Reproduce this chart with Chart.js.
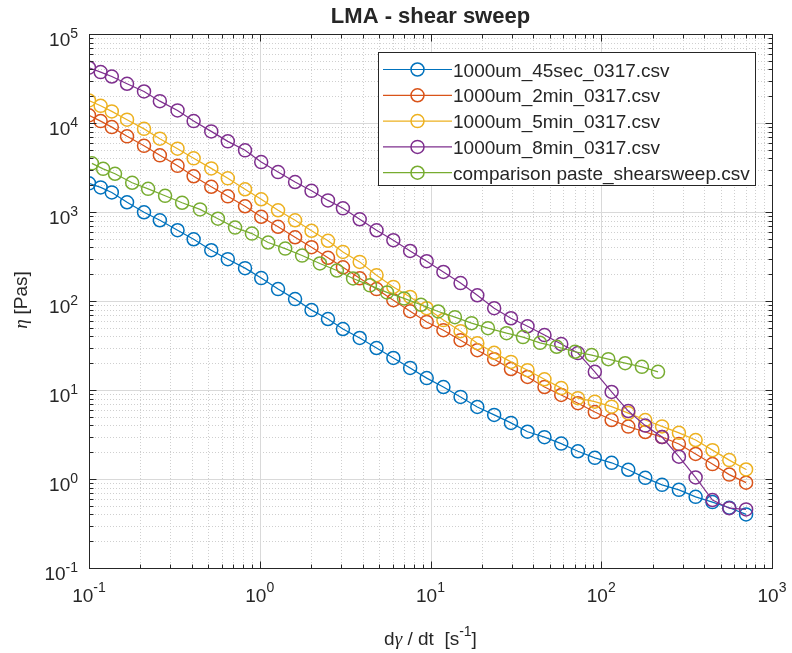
<!DOCTYPE html>
<html>
<head>
<meta charset="utf-8">
<script src="https://cdn.jsdelivr.net/npm/chart.js@4/dist/chart.umd.min.js"></script>
<style>
  html, body { margin: 0; padding: 0; background: #fff; }
</style>
</head>
<body>
<canvas id="chart" width="792" height="653"></canvas>
<script>
// legend text + colours (matlab default order)
var seriesLabels = ['1000um_45sec_0317.csv', '1000um_2min_0317.csv', '1000um_5min_0317.csv', '1000um_8min_0317.csv', 'comparison paste_shearsweep.csv'];
var seriesColors = ['#0072BD', '#D95319', '#EDB120', '#7E2F8E', '#77AC30'];

// shear rate [1/s]
var shearRate = [0.1, 0.117, 0.136, 0.167, 0.21, 0.26, 0.33, 0.41, 0.52, 0.65, 0.82, 1.02, 1.28, 1.61, 2.01, 2.51, 3.07,
  3.85, 4.83, 6.06, 7.6, 9.5, 11.9, 15, 18.8, 23.6, 29.6, 37, 46.5, 58.3, 73, 91.7, 115, 144, 181, 227, 285, 357, 448, 562, 705];
var shearRatePaste = [0.104, 0.121, 0.142, 0.179, 0.222, 0.279, 0.351, 0.447, 0.569, 0.717, 0.9, 1.12, 1.41, 1.77, 2.25, 2.83, 3.52,
  4.42, 5.56, 7.0, 8.8, 11.1, 13.9, 17.4, 21.7, 27.9, 34.8, 43.8, 54.8, 70.2, 87.9, 110, 138, 173, 215];

// viscosity [Pas]
var eta45sec = [2100, 1890, 1660, 1285, 993, 807, 624, 494, 372, 295, 234, 181, 136, 105, 79, 62.7, 48.4, 38.4, 29.6, 22.9,
  17.7, 13.6, 10.8, 8.36, 6.45, 5.25, 4.27, 3.4, 2.95, 2.5, 2.05, 1.73, 1.52, 1.27, 1.03, 0.86, 0.755, 0.63, 0.55, 0.475, 0.40];
var eta2min = [12200, 10500, 8990, 7080, 5540, 4330, 3300, 2520, 1920, 1500, 1160, 884, 682, 520, 402, 306, 239, 180, 136, 102,
  76.8, 58.2, 47, 36.3, 28, 22.2, 17.2, 14, 10.8, 8.8, 7.1, 5.65, 4.6, 3.88, 3.37, 2.96, 2.47, 1.91, 1.47, 1.12, 0.91];
var eta5min = [17900, 15600, 13500, 10900, 8590, 6670, 5150, 4010, 3090, 2390, 1800, 1390, 1045, 807, 615, 475, 356, 275, 195, 144,
  111, 83, 61, 45.8, 33.6, 26.2, 20.7, 16.7, 13.2, 10.5, 8.1, 7.4, 6.5, 5.5, 4.6, 3.9, 3.3, 2.74, 2.11, 1.63, 1.28];
var eta8min = [41800, 37300, 33300, 27600, 22600, 17600, 13850, 10500, 8050, 6220, 4930, 3640, 2810, 2170, 1730, 1350, 1100, 828, 623, 482,
  365, 280, 212, 159, 116, 83, 64, 52, 41.4, 32.8, 26, 16, 9.5, 5.8, 3.98, 2.96, 1.78, 1.04, 0.58, 0.47, 0.455];
var etaPaste = [3520, 3055, 2690, 2130, 1820, 1520, 1270, 1070, 840, 668, 572, 454, 388, 324, 264, 220, 179, 150, 125, 107,
  90.7, 76.3, 65.8, 56.4, 49.5, 43.5, 39.3, 33.9, 30.6, 26.9, 24.7, 22.2, 20, 18.2, 16];

// axis decades (tick labels are 10^n)
var xDecades = [-1, 0, 1, 2, 3];
var yDecades = [-1, 0, 1, 2, 3, 4, 5];

var FONT = '"Liberation Sans", Arial, sans-serif';
var INK = '#262626';

var seriesX = [shearRate, shearRate, shearRate, shearRate, shearRatePaste];
var seriesY = [eta45sec, eta2min, eta5min, eta8min, etaPaste];

var datasets = seriesY.map(function (ys, i) {
  return {
    label: seriesLabels[i],
    data: ys.map(function (v, j) { return { x: seriesX[i][j], y: v }; }),
    borderColor: seriesColors[i],
    backgroundColor: 'rgba(0,0,0,0)',
    pointBackgroundColor: 'rgba(0,0,0,0)',
    pointBorderColor: seriesColors[i],
    borderWidth: 1.2,
    pointRadius: 6.5,
    pointBorderWidth: 1.5,
    showLine: true,
    order: 5 - i
  };
});

function txt(ctx, s, x, y, size, opt) {
  opt = opt || {};
  ctx.save();
  ctx.font = (opt.style ? opt.style + ' ' : '') + (opt.bold ? 'bold ' : '') + size + 'px ' + (opt.family || FONT);
  ctx.fillStyle = INK;
  ctx.textBaseline = opt.baseline || 'alphabetic';
  var w = ctx.measureText(s).width;
  var x0 = opt.align === 'center' ? x - w / 2 : opt.align === 'right' ? x - w : x;
  ctx.textAlign = 'left';
  ctx.fillText(s, x0, y);
  ctx.restore();
  return w;
}

function measure(ctx, s, size, family, style) {
  ctx.save();
  ctx.font = (style ? style + ' ' : '') + size + 'px ' + (family || FONT);
  var w = ctx.measureText(s).width;
  ctx.restore();
  return w;
}

var matlabAxes = {
  id: 'matlabAxes',
  beforeDatasetsDraw: function (chart) {
    var ctx = chart.ctx, a = chart.chartArea, xs = chart.scales.x, ys = chart.scales.y;
    ctx.save();
    ctx.lineWidth = 1;
    // minor grid, dotted
    ctx.strokeStyle = '#cfcfcf';
    ctx.setLineDash([1, 2]);
    xDecades.slice(0, -1).forEach(function (d) {
      for (var m = 2; m <= 9; m++) {
        var px = Math.round(xs.getPixelForValue(m * Math.pow(10, d))) + 0.5;
        ctx.beginPath(); ctx.moveTo(px, a.top); ctx.lineTo(px, a.bottom); ctx.stroke();
      }
    });
    yDecades.slice(0, -1).forEach(function (d) {
      for (var m = 2; m <= 9; m++) {
        var py = Math.round(ys.getPixelForValue(m * Math.pow(10, d))) + 0.5;
        ctx.beginPath(); ctx.moveTo(a.left, py); ctx.lineTo(a.right, py); ctx.stroke();
      }
    });
    // major grid
    ctx.setLineDash([]);
    ctx.strokeStyle = '#d9d9d9';
    xDecades.forEach(function (d) {
      var px = Math.round(xs.getPixelForValue(Math.pow(10, d))) + 0.5;
      ctx.beginPath(); ctx.moveTo(px, a.top); ctx.lineTo(px, a.bottom); ctx.stroke();
    });
    yDecades.forEach(function (d) {
      var py = Math.round(ys.getPixelForValue(Math.pow(10, d))) + 0.5;
      ctx.beginPath(); ctx.moveTo(a.left, py); ctx.lineTo(a.right, py); ctx.stroke();
    });
    ctx.restore();
  },
  afterDatasetsDraw: function (chart) {
    var ctx = chart.ctx, a = chart.chartArea, xs = chart.scales.x, ys = chart.scales.y;
    var L = Math.round(a.left) + 0.5, R = Math.round(a.right) + 0.5;
    var T = Math.round(a.top) + 0.5, B = Math.round(a.bottom) + 0.5;
    ctx.save();
    ctx.strokeStyle = INK;
    ctx.lineWidth = 1;
    ctx.strokeRect(L, T, R - L, B - T);

    // tick marks, inside, all four sides
    function xTick(v, len) {
      var px = Math.round(xs.getPixelForValue(v)) + 0.5;
      ctx.beginPath();
      ctx.moveTo(px, B); ctx.lineTo(px, B - len);
      ctx.moveTo(px, T); ctx.lineTo(px, T + len);
      ctx.stroke();
    }
    function yTick(v, len) {
      var py = Math.round(ys.getPixelForValue(v)) + 0.5;
      ctx.beginPath();
      ctx.moveTo(L, py); ctx.lineTo(L + len, py);
      ctx.moveTo(R, py); ctx.lineTo(R - len, py);
      ctx.stroke();
    }
    xDecades.forEach(function (d, k) {
      xTick(Math.pow(10, d), 7);
      if (k < xDecades.length - 1) for (var m = 2; m <= 9; m++) xTick(m * Math.pow(10, d), 4);
    });
    yDecades.forEach(function (d, k) {
      yTick(Math.pow(10, d), 7);
      if (k < yDecades.length - 1) for (var m = 2; m <= 9; m++) yTick(m * Math.pow(10, d), 4);
    });

    // tick labels 10^n
    yDecades.forEach(function (d) {
      var py = ys.getPixelForValue(Math.pow(10, d));
      var e = String(d);
      var we = measure(ctx, e, 14);
      txt(ctx, e, a.left - 11, py + 4, 14, { align: 'right' });
      txt(ctx, '10', a.left - 11 - we, py + 12, 19, { align: 'right' });
    });
    xDecades.forEach(function (d) {
      var px = xs.getPixelForValue(Math.pow(10, d));
      var e = String(d);
      var wt = measure(ctx, '10', 19), we = measure(ctx, e, 14);
      var x0 = px - (wt + we) / 2;
      txt(ctx, '10', x0, a.bottom + 34, 19);
      txt(ctx, e, x0 + wt, a.bottom + 24, 14);
    });

    // title + axis labels
    txt(ctx, 'LMA - shear sweep', (a.left + a.right) / 2, 23, 22, { bold: true, align: 'center' });

    var SERIF = '"Liberation Serif", serif';
    var parts = [
      ['d', 19, 0, FONT, ''], ['\u03b3', 19, 0, SERIF, 'italic'], [' / dt  [s', 19, 0, FONT, ''],
      ['-1', 14, -9, FONT, ''], [']', 19, 0, FONT, '']
    ];
    var total = parts.reduce(function (s, p) { return s + measure(ctx, p[0], p[1], p[3], p[4]); }, 0);
    var cx = (a.left + a.right) / 2 - total / 2;
    parts.forEach(function (p) { cx += txt(ctx, p[0], cx, 645 + p[2], p[1], { family: p[3], style: p[4] }); });

    ctx.save();
    ctx.translate(22, 300);
    ctx.rotate(-Math.PI / 2);
    var wEta = measure(ctx, '\u03b7 ', 19, SERIF, 'italic');
    var wRest = measure(ctx, '[Pas]', 19);
    var sx = -(wEta + wRest) / 2;
    sx += txt(ctx, '\u03b7 ', sx, 0, 19, { family: SERIF, style: 'italic', baseline: 'middle' });
    txt(ctx, '[Pas]', sx, 0, 19, { baseline: 'middle' });
    ctx.restore();

    // legend box
    var bx = 378.5, by = 52.5, bw = 377, bh = 133;
    ctx.fillStyle = '#fff';
    ctx.fillRect(bx, by, bw, bh);
    ctx.strokeStyle = INK;
    ctx.lineWidth = 1;
    ctx.strokeRect(bx, by, bw, bh);
    chart.data.datasets.forEach(function (ds, i) {
      var ry = 69.5 + i * 25.8;
      ctx.strokeStyle = ds.borderColor;
      ctx.lineWidth = 1.2;
      ctx.beginPath(); ctx.moveTo(383, ry); ctx.lineTo(452, ry); ctx.stroke();
      ctx.lineWidth = 1.5;
      ctx.beginPath(); ctx.arc(417.5, ry, 6.5, 0, Math.PI * 2); ctx.stroke();
      txt(ctx, ds.label, 453, ry + 7, 19);
    });
    ctx.restore();
  }
};

new Chart(document.getElementById('chart'), {
  type: 'scatter',
  data: { datasets: datasets },
  options: {
    responsive: false,
    animation: false,
    events: [],
    layout: { padding: { left: 89, right: 20, top: 34, bottom: 85 } },
    plugins: {
      legend: { display: false },
      title: { display: false },
      tooltip: { enabled: false }
    },
    scales: {
      x: {
        type: 'logarithmic', min: 0.1, max: 1000,
        ticks: { display: false },
        grid: { display: false, drawTicks: false },
        border: { display: false }
      },
      y: {
        type: 'logarithmic', min: 0.1, max: 100000,
        ticks: { display: false },
        grid: { display: false, drawTicks: false },
        border: { display: false }
      }
    }
  },
  plugins: [matlabAxes]
});
</script>
</body>
</html>
